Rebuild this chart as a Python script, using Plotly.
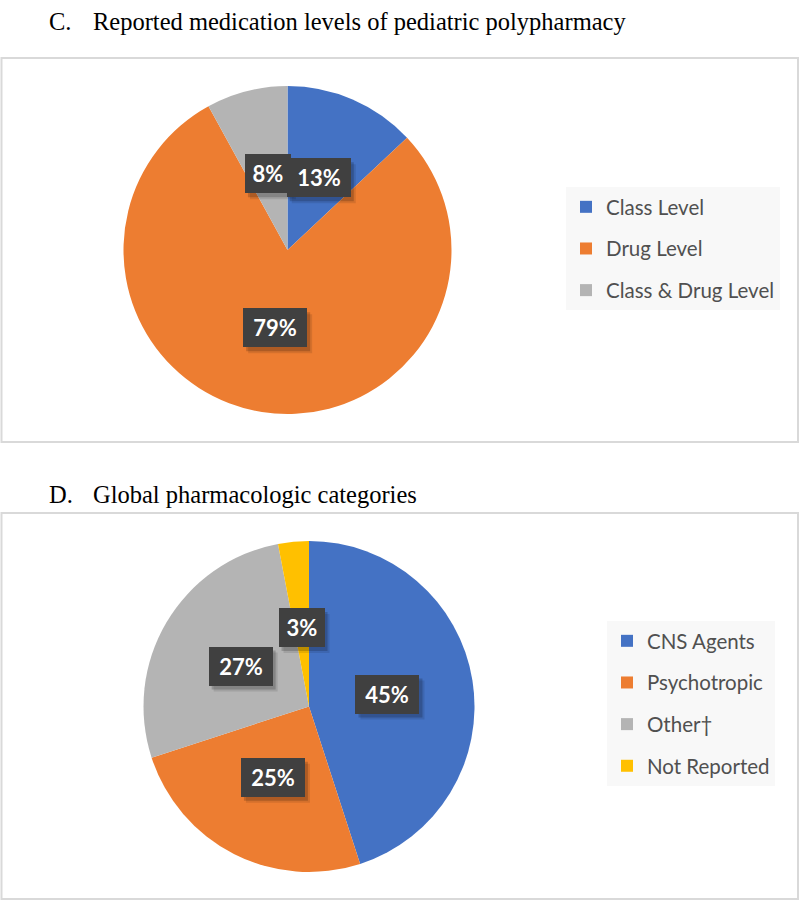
import math
import plotly.graph_objects as go

W, H = 800, 901

# panel C
levels = ["Class Level", "Drug Level", "Class & Drug Level"]
level_pct = [13, 79, 8]
level_colors = ["#4472C4", "#ED7D31", "#B4B4B4"]

# panel D
categories = ["CNS Agents", "Psychotropic", "Other\u2020", "Not Reported"]
category_pct = [45, 25, 27, 3]
category_colors = ["#4472C4", "#ED7D31", "#B4B4B4", "#FFC000"]

# pie centres / radii in pixels
pie1 = dict(cx=287.5, cy=250, r=164)
pie2 = dict(cx=309, cy=706.5, r=165.5)


def domain(p):
    return dict(x=[(p["cx"] - p["r"]) / W, (p["cx"] + p["r"]) / W],
                y=[1 - (p["cy"] + p["r"]) / H, 1 - (p["cy"] - p["r"]) / H])


def label_spots(vals, p, k=0.48):
    total = sum(vals)
    cum = 0
    out = []
    for v in vals:
        mid = (cum + v / 2) / total * 2 * math.pi
        cum += v
        x = p["cx"] + k * p["r"] * math.sin(mid)
        y = p["cy"] - k * p["r"] * math.cos(mid)
        out.append((x, y))
    return out


fig = go.Figure()

fig.add_trace(go.Pie(labels=levels, values=level_pct, sort=False, direction="clockwise",
                     marker=dict(colors=level_colors, line=dict(width=0)),
                     textinfo="none", hoverinfo="label+percent", showlegend=False,
                     domain=domain(pie1)))
fig.add_trace(go.Pie(labels=categories, values=category_pct, sort=False, direction="clockwise",
                     marker=dict(colors=category_colors, line=dict(width=0)),
                     textinfo="none", hoverinfo="label+percent", showlegend=False,
                     domain=domain(pie2)))

# legend entries (one group each so the spacing can be opened up)
for name, col in zip(levels, level_colors):
    fig.add_trace(go.Scatter(x=[None], y=[None], mode="markers", name=name, legendgroup=name,
                             marker=dict(symbol="square", size=12, color=col), legend="legend"))
for name, col in zip(categories, category_colors):
    fig.add_trace(go.Scatter(x=[None], y=[None], mode="markers", name=name, legendgroup="d" + name,
                             marker=dict(symbol="square", size=12, color=col), legend="legend2"))

# data labels: dark box with a drop shadow
for vals, p in [(level_pct, pie1), (category_pct, pie2)]:
    for v, (x, y) in zip(vals, label_spots(vals, p)):
        txt = "%d%%" % v
        bw = 46 if len(txt) == 2 else 64
        bh = 39
        for dx, dy, a in [(5, 6, 0.10), (3, 4, 0.18)]:
            fig.add_shape(type="rect", xref="paper", yref="paper", layer="above",
                          x0=(x - bw / 2 + dx) / W, x1=(x + bw / 2 + dx) / W,
                          y0=1 - (y + bh / 2 + dy) / H, y1=1 - (y - bh / 2 + dy) / H,
                          fillcolor="rgba(0,0,0,%.2f)" % a, line=dict(width=0))
        fig.add_annotation(x=x / W, y=1 - y / H, xref="paper", yref="paper", text="<b>%s</b>" % txt,
                           showarrow=False, xanchor="center", yanchor="middle",
                           bgcolor="#404040", borderpad=0, borderwidth=0,
                           width=bw, height=bh, align="center", valign="middle",
                           font=dict(family="Lato", size=22, color="white"))

# titles
title_font = dict(family="Liberation Serif", size=24.5, color="black")
for ty, letter, txt in [(22, "C.", "Reported medication levels of pediatric polypharmacy"),
                        (494, "D.", "Global pharmacologic categories")]:
    fig.add_annotation(x=47 / W, y=1 - ty / H, xref="paper", yref="paper", text=letter,
                       showarrow=False, xanchor="left", yanchor="middle", font=title_font)
    fig.add_annotation(x=91 / W, y=1 - ty / H, xref="paper", yref="paper", text=txt,
                       showarrow=False, xanchor="left", yanchor="middle", font=title_font)

# chart frames
for y0, y1 in [(58, 442), (513, 899)]:
    fig.add_shape(type="rect", xref="paper", yref="paper", x0=1.5 / W, x1=798 / W,
                  y0=1 - y1 / H, y1=1 - y0 / H, line=dict(color="#D9D9D9", width=2),
                  layer="below")

leg_font = dict(family="Lato", size=20.5, color="#505050")
fig.update_layout(
    width=W, height=H,
    margin=dict(l=0, r=0, t=0, b=0),
    paper_bgcolor="white", plot_bgcolor="white",
    xaxis=dict(visible=False), yaxis=dict(visible=False),
    legend=dict(x=566 / W, y=1 - 187 / H, xanchor="left", yanchor="top",
                bgcolor="#F8F8F8", font=leg_font, tracegroupgap=12, itemsizing="constant"),
    legend2=dict(x=607 / W, y=1 - 621 / H, xanchor="left", yanchor="top",
                 bgcolor="#F8F8F8", font=leg_font, tracegroupgap=12, itemsizing="constant"),
)

fig.write_html("out.html", config={"displayModeBar": False},
               post_script="document.body.style.margin='0px';")
